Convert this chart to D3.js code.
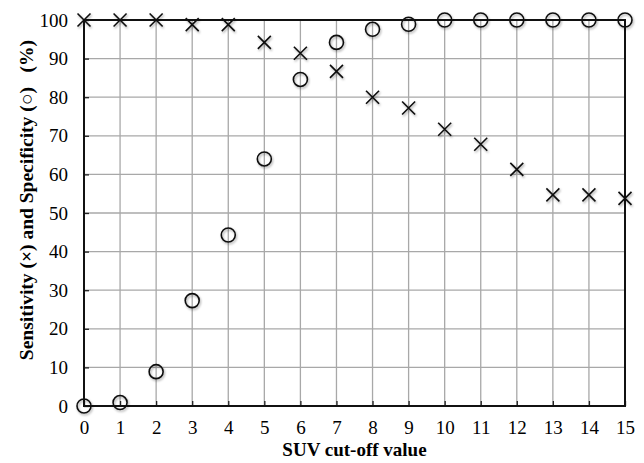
<!DOCTYPE html>
<html>
<head>
<meta charset="utf-8">
<script src="https://cdn.jsdelivr.net/npm/d3@7"></script>
<style>
  body { margin: 0; background: #fff; }
</style>
</head>
<body>
<div id="chart"></div>
<script>
// SUV cut-off values and the two series
let cutoffs = d3.range(0, 16);
let sensitivity = [100, 100, 100, 98.8, 98.8, 94.2, 91.4, 86.7, 80.0, 77.2, 71.7, 67.8, 61.3, 54.7, 54.7, 53.8];
let specificity = [0, 0.9, 8.9, 27.3, 44.3, 64.0, 84.6, 94.2, 97.6, 98.9, 100, 100, 100, 100, 100, 100];
let yTicks = d3.range(0, 101, 10);

let serif = '"Liberation Serif", "Times New Roman", Times, serif';

let width = 644,
    height = 463,
    margin = { top: 20, right: 19, bottom: 57, left: 84 };

let svg = d3.select('#chart')
    .append('svg')
    .attr('width', width)
    .attr('height', height);

// faint drop shadow like the original markers
let defs = svg.append('defs');
defs.append('filter')
    .attr('id', 'shadow')
    .attr('x', '-50%').attr('y', '-50%').attr('width', '200%').attr('height', '200%')
    .append('feDropShadow')
    .attr('dx', 1).attr('dy', 1.5).attr('stdDeviation', 1)
    .attr('flood-color', '#000').attr('flood-opacity', 0.35);

let xScale = d3.scaleLinear()
    .domain([0, 15])
    .range([margin.left, width - margin.right]);

let yScale = d3.scaleLinear()
    .domain([0, 100])
    .range([height - margin.bottom, margin.top]);

// grid
svg.append('g')
    .selectAll('line')
    .data(cutoffs)
    .join('line')
    .attr('x1', d => xScale(d)).attr('x2', d => xScale(d))
    .attr('y1', yScale(0)).attr('y2', yScale(100))
    .attr('stroke', '#a8a8a8').attr('stroke-width', 1.3);

svg.append('g')
    .selectAll('line')
    .data(yTicks)
    .join('line')
    .attr('x1', xScale(0)).attr('x2', xScale(15))
    .attr('y1', d => yScale(d)).attr('y2', d => yScale(d))
    .attr('stroke', '#a8a8a8').attr('stroke-width', 1.3);

// axes (ticks pointing inward)
let xAxis = d3.axisBottom(xScale).tickValues(cutoffs).tickSize(-5).tickPadding(15).tickFormat(d3.format('d'));
let yAxis = d3.axisLeft(yScale).tickValues(yTicks).tickSize(-5).tickPadding(16);

let gx = svg.append('g')
    .attr('transform', 'translate(0,' + yScale(0) + ')')
    .call(xAxis);
let gy = svg.append('g')
    .attr('transform', 'translate(' + xScale(0) + ',0)')
    .call(yAxis);

[gx, gy].forEach(g => {
    g.attr('font-family', null).attr('font-size', null);
    g.select('.domain').remove();
    g.selectAll('.tick line').attr('stroke', '#222').attr('stroke-width', 1.3);
    g.selectAll('.tick text')
        .style('font-family', serif)
        .style('font-size', '19px')
        .attr('fill', '#000');
});

// frame
svg.append('rect')
    .attr('x', xScale(0)).attr('y', yScale(100))
    .attr('width', xScale(15) - xScale(0))
    .attr('height', yScale(0) - yScale(100))
    .attr('fill', 'none')
    .attr('stroke', '#111')
    .attr('stroke-width', 2);

// specificity: circles
svg.append('g')
    .attr('filter', 'url(#shadow)')
    .selectAll('circle')
    .data(specificity)
    .join('circle')
    .attr('cx', (d, i) => xScale(cutoffs[i]))
    .attr('cy', d => yScale(d))
    .attr('r', 7)
    .attr('fill', 'none')
    .attr('stroke', '#111')
    .attr('stroke-width', 1.6);

// sensitivity: crosses
let s = 6.5;
svg.append('g')
    .attr('filter', 'url(#shadow)')
    .selectAll('path')
    .data(sensitivity)
    .join('path')
    .attr('d', (d, i) => {
        let x = xScale(cutoffs[i]), y = yScale(d);
        return 'M' + (x - s) + ',' + (y - s) + 'L' + (x + s) + ',' + (y + s) +
               'M' + (x - s) + ',' + (y + s) + 'L' + (x + s) + ',' + (y - s);
    })
    .attr('fill', 'none')
    .attr('stroke', '#111')
    .attr('stroke-width', 1.6);

// axis titles
svg.append('text')
    .attr('x', (xScale(0) + xScale(15)) / 2)
    .attr('y', 456)
    .attr('text-anchor', 'middle')
    .style('font-family', serif)
    .style('font-size', '19px')
    .style('font-weight', 'bold')
    .text('SUV cut-off value');

svg.append('text')
    .attr('transform', 'translate(33,200) rotate(-90)')
    .attr('text-anchor', 'middle')
    .style('font-family', serif)
    .style('font-size', '19.5px')
    .style('font-weight', 'bold')
    .style('white-space', 'pre')
    .text('Sensitivity (\u00d7) and Specificity (\u25cb)   (%)');
</script>
</body>
</html>
